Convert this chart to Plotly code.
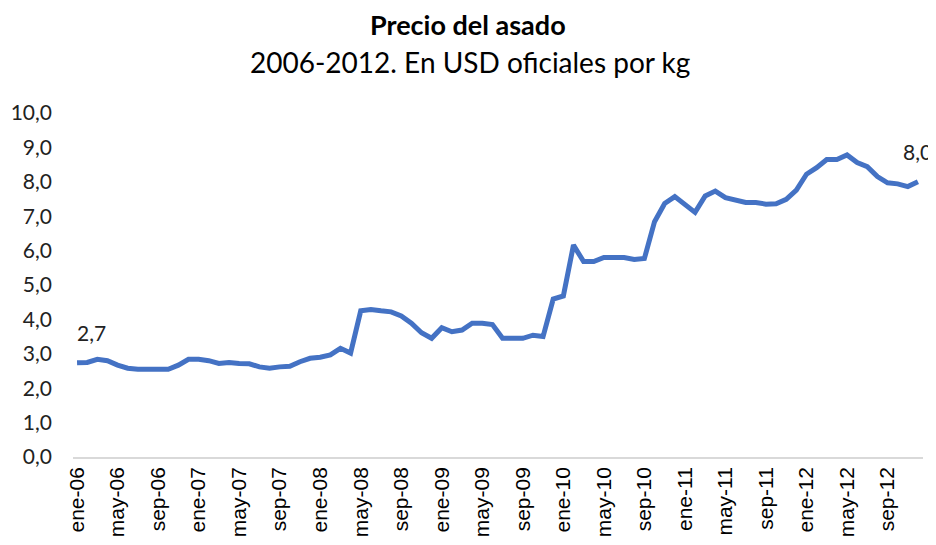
import plotly.graph_objects as go

months = ["ene", "feb", "mar", "abr", "may", "jun", "jul", "ago", "sep", "oct", "nov", "dic"]
years = ["06", "07", "08", "09", "10", "11", "12"]
periods = [f"{m}-{y}" for y in years for m in months]

precio = [
    2.74, 2.75, 2.84, 2.80, 2.67, 2.58, 2.55, 2.55, 2.55, 2.55, 2.67, 2.84,
    2.84, 2.80, 2.72, 2.75, 2.72, 2.71, 2.62, 2.58, 2.62, 2.64, 2.77, 2.87,
    2.90, 2.97, 3.16, 3.02, 4.25, 4.29, 4.25, 4.22, 4.10, 3.89, 3.61, 3.45,
    3.76, 3.64, 3.69, 3.89, 3.89, 3.85, 3.45, 3.45, 3.45, 3.54, 3.50, 4.59,
    4.68, 6.16, 5.68, 5.68, 5.80, 5.80, 5.80, 5.74, 5.77, 6.84, 7.37, 7.57,
    7.35, 7.11, 7.59, 7.73, 7.54, 7.47, 7.40, 7.40, 7.35, 7.36, 7.49, 7.76,
    8.22, 8.41, 8.65, 8.65, 8.78, 8.56, 8.44, 8.15, 7.97, 7.94, 7.86, 8.00,
]

title_text = "Precio del asado"
subtitle_text = "2006-2012. En USD oficiales por kg"

x = list(range(len(periods)))
tick_idx = list(range(0, len(periods), 4))

FONT = "Lato, Open Sans, sans-serif"

fig = go.Figure()
fig.add_trace(go.Scatter(
    x=x, y=precio, mode="lines",
    line=dict(color="#4472C4", width=5),
    hoverinfo="skip", showlegend=False,
))

def fmt(v):
    return f"{v:.1f}".replace(".", ",")

for i in (0, len(precio) - 1):
    fig.add_annotation(
        x=x[i], y=precio[i], text=fmt(precio[i]), showarrow=False,
        yshift=30, xshift=14 if i == 0 else 0,
        font=dict(family=FONT, size=21, color="#222222"),
    )

fig.add_annotation(
    xref="paper", yref="paper", x=0.465, y=1.256, xanchor="center", yanchor="middle",
    text=f"<b>{title_text}</b>", showarrow=False,
    font=dict(family=FONT, size=27, color="#000000"),
)
fig.add_annotation(
    xref="paper", yref="paper", x=0.467, y=1.148, xanchor="center", yanchor="middle",
    text=subtitle_text, showarrow=False,
    font=dict(family=FONT, size=28, color="#000000"),
)

# page body has an 8px margin, so the figure is sized/offset to compensate
fig.update_layout(
    width=928, height=537,
    margin=dict(l=65, r=13, t=105, b=88),
    paper_bgcolor="white", plot_bgcolor="white",
    separators=",.",
    xaxis=dict(
        range=[-0.4, 83.5], automargin=False,
        tickmode="array", tickvals=[x[i] for i in tick_idx],
        ticktext=[periods[i] for i in tick_idx],
        tickangle=-90,
        tickfont=dict(family="Liberation Sans, Arial, sans-serif", size=21, color="#000000"),
        showgrid=False, zeroline=False,
        showline=True, linecolor="#D9D9D9", linewidth=1.5,
        ticks="", ticklen=0,
    ),
    yaxis=dict(
        range=[0, 10], dtick=1, tickformat=".1f", automargin=False,
        tickfont=dict(family=FONT, size=21, color="#222222"),
        showgrid=False, zeroline=False, showline=False,
        ticks="", ticklabelstandoff=20,
    ),
)

fig.write_html("out.html")
